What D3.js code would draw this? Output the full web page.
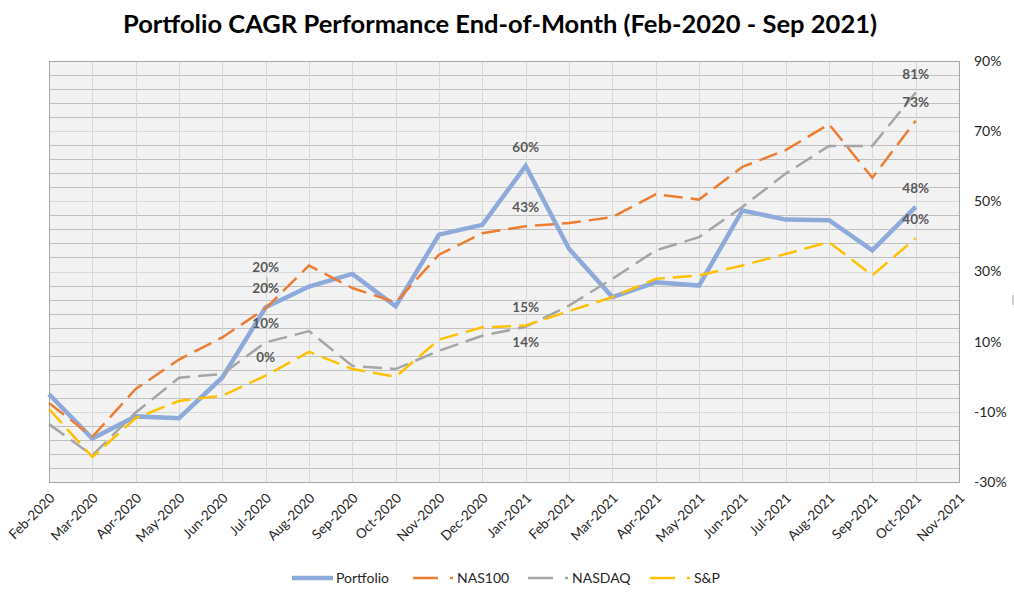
<!DOCTYPE html>
<html>
<head>
<meta charset="utf-8">
<script src="https://cdn.jsdelivr.net/npm/d3@7"></script>
<style>
  body { margin: 0; background: #fff; }
  text { font-family: Lato, "Open Sans", sans-serif; }
</style>
</head>
<body>
<div id="chart"></div>
<script>
// Data (percent, end of month)
const months = ['Feb-2020', 'Mar-2020', 'Apr-2020', 'May-2020', 'Jun-2020', 'Jul-2020', 'Aug-2020',
  'Sep-2020', 'Oct-2020', 'Nov-2020', 'Dec-2020', 'Jan-2021', 'Feb-2021', 'Mar-2021', 'Apr-2021',
  'May-2021', 'Jun-2021', 'Jul-2021', 'Aug-2021', 'Sep-2021', 'Oct-2021', 'Nov-2021'];
const portfolio = [-5, -17.6, -11.3, -11.8, -0.2, 19.8, 25.7, 29.3, 20.1, 40.5, 43.3, 60.1, 36.5, 22.7, 26.9, 26, 47.4, 44.8, 44.6, 36, 48.4];
const nas100 = [-7.5, -17.1, -3.5, 4.9, 11.2, 19.5, 31.7, 25.3, 21.2, 34.8, 40.9, 42.9, 43.8, 45.5, 52, 50.5, 59.8, 64.6, 72, 56.7, 73];
const nasdaq = [-13.5, -22.4, -10.2, -0.3, 0.8, 9.8, 13, 3.1, 2.2, 7.4, 11.7, 14.2, 20.3, 27.9, 36, 39.8, 48.4, 57.9, 65.8, 65.8, 81];
const sp = [-9.2, -22.9, -11.8, -6.9, -5.4, 0.3, 7.1, 2.2, 0, 10.6, 14.1, 14.6, 18.7, 22.7, 27.9, 28.9, 31.7, 35, 38.4, 28.9, 39.5];
const yTicks = [-30, -10, 10, 30, 50, 70, 90];

// which points carry a data label
const labelPoints = [
  { series: 'NAS100', month: 'Jul-2020', place: 'moved' },
  { series: 'Portfolio', month: 'Jul-2020', place: 'above' },
  { series: 'NASDAQ', month: 'Jul-2020', place: 'above' },
  { series: 'S&P', month: 'Jul-2020', place: 'above' },
  { series: 'Portfolio', month: 'Jan-2021', place: 'above' },
  { series: 'NAS100', month: 'Jan-2021', place: 'above' },
  { series: 'S&P', month: 'Jan-2021', place: 'above' },
  { series: 'NASDAQ', month: 'Jan-2021', place: 'below' },
  { series: 'NASDAQ', month: 'Oct-2021', place: 'above' },
  { series: 'NAS100', month: 'Oct-2021', place: 'above' },
  { series: 'Portfolio', month: 'Oct-2021', place: 'above' },
  { series: 'S&P', month: 'Oct-2021', place: 'above' }
];

const series = [
  { name: 'Portfolio', values: portfolio, color: '#8eaadb', width: 4.5, dash: null },
  { name: 'NAS100', values: nas100, color: '#ed7d31', width: 2.5, dash: '19,8' },
  { name: 'NASDAQ', values: nasdaq, color: '#a5a5a5', width: 2.5, dash: '19,8' },
  { name: 'S&P', values: sp, color: '#ffc000', width: 2.5, dash: '19,8' }
];

const dimensions = {
  width: 1014,
  height: 596,
  plot: { left: 49, right: 959, top: 61, bottom: 482 }
};
const p = dimensions.plot;

const svg = d3.select('#chart')
  .append('svg')
  .attr('width', dimensions.width)
  .attr('height', dimensions.height);

// Scales
const xScale = d3.scalePoint()
  .domain(months)
  .range([p.left, p.right]);

const yScale = d3.scaleLinear()
  .domain([-30, 90])
  .range([p.bottom, p.top]);

// Plot background
svg.append('rect')
  .attr('x', p.left)
  .attr('y', p.top)
  .attr('width', p.right - p.left)
  .attr('height', p.bottom - p.top)
  .attr('fill', '#f2f2f2');

// Gridlines: minor every 4%, major every 20% (lighter)
const minor = d3.range(-30, 90.1, 4);
svg.append('g')
  .selectAll('line')
  .data(minor)
  .join('line')
  .attr('x1', p.left)
  .attr('x2', p.right)
  .attr('y1', d => Math.round(yScale(d)) + 0.5)
  .attr('y2', d => Math.round(yScale(d)) + 0.5)
  .attr('stroke', d => yTicks.includes(Math.round(d)) ? '#d9d9d9' : '#bfbfbf')
  .attr('stroke-width', 1);

svg.append('g')
  .selectAll('line')
  .data(months)
  .join('line')
  .attr('x1', d => Math.round(xScale(d)) + 0.5)
  .attr('x2', d => Math.round(xScale(d)) + 0.5)
  .attr('y1', p.top)
  .attr('y2', p.bottom)
  .attr('stroke', '#d9d9d9')
  .attr('stroke-width', 1);

svg.append('rect')
  .attr('x', p.left + 0.5)
  .attr('y', p.top + 0.5)
  .attr('width', p.right - p.left)
  .attr('height', p.bottom - p.top)
  .attr('fill', 'none')
  .attr('stroke', '#a6a6a6')
  .attr('stroke-width', 1);

// Lines
const line = d3.line()
  .x((d, i) => xScale(months[i]))
  .y(d => yScale(d));

svg.append('g')
  .selectAll('path')
  .data(series)
  .join('path')
  .attr('d', d => line(d.values))
  .attr('fill', 'none')
  .attr('stroke', d => d.color)
  .attr('stroke-width', d => d.width)
  .attr('stroke-dasharray', d => d.dash)
  .attr('stroke-linejoin', 'miter')
  .attr('stroke-linecap', d => d.dash ? 'butt' : 'butt');

// Data labels
const seriesByName = Object.fromEntries(series.map(s => [s.name, s]));
const labelData = labelPoints.map(l => {
  const v = seriesByName[l.series].values[months.indexOf(l.month)];
  return { ...l, value: v, x: xScale(l.month), y: yScale(v) };
});

const labelsGroup = svg.append('g');
labelsGroup.selectAll('line')
  .data(labelData.filter(d => d.place === 'moved'))
  .join('line')
  .attr('x1', d => d.x + 1.5)
  .attr('x2', d => d.x + 1.5)
  .attr('y1', d => d.y - 31)
  .attr('y2', d => d.y - 16)
  .attr('stroke', '#a6a6a6')
  .attr('stroke-width', 1);

labelsGroup.selectAll('text')
  .data(labelData)
  .join('text')
  .attr('x', d => d.x)
  .attr('y', d => d.place === 'below' ? d.y + 20 : d.place === 'moved' ? d.y - 36 : d.y - 14)
  .attr('text-anchor', 'middle')
  .attr('font-size', 13.5)
  .attr('font-weight', 'bold')
  .attr('fill', '#595959')
  .text(d => Math.round(d.value) + '%');

// Axes
const yAxis = d3.axisRight(yScale)
  .tickValues(yTicks)
  .tickSize(0)
  .tickPadding(0)
  .tickFormat(d => d + '%');

const yAxisGroup = svg.append('g')
  .attr('transform', `translate(974, 0)`)
  .call(yAxis);
yAxisGroup.select('.domain').remove();
yAxisGroup.selectAll('text')
  .attr('font-family', 'Lato, sans-serif')
  .attr('font-size', 14)
  .attr('fill', '#262626')
  .attr('dy', '0.32em');

const xAxis = d3.axisBottom(xScale)
  .tickSize(0)
  .tickPadding(0);

const xAxisGroup = svg.append('g')
  .attr('transform', `translate(0, ${p.bottom})`)
  .call(xAxis);
xAxisGroup.select('.domain').remove();
xAxisGroup.selectAll('text')
  .attr('font-family', 'Lato, sans-serif')
  .attr('font-size', 13.5)
  .attr('fill', '#262626')
  .attr('y', 0)
  .attr('dy', 0)
  .attr('text-anchor', 'end')
  .attr('transform', 'translate(6, 17) rotate(-45)');

// Title
svg.append('text')
  .attr('x', 500)
  .attr('y', 33)
  .attr('text-anchor', 'middle')
  .attr('font-size', 24)
  .attr('font-weight', 'bold')
  .attr('fill', '#000')
  .attr('textLength', 754)
  .attr('lengthAdjust', 'spacingAndGlyphs')
  .text('Portfolio CAGR Performance End-of-Month (Feb-2020 - Sep 2021)');

// Legend
const legendX = [292, 413, 528, 650];
const legend = svg.append('g')
  .selectAll('g')
  .data(series)
  .join('g')
  .attr('transform', (d, i) => `translate(${legendX[i]}, 578)`);

legend.append('line')
  .attr('x1', 0)
  .attr('x2', d => d.dash ? 40 : 41)
  .attr('y1', 0)
  .attr('y2', 0)
  .attr('stroke', d => d.color)
  .attr('stroke-width', d => d.width)
  .attr('stroke-dasharray', d => d.dash ? '25,12,3,20' : null);

legend.append('text')
  .attr('x', d => d.dash ? 44 : 44)
  .attr('y', 5)
  .attr('font-size', 14)
  .attr('fill', '#262626')
  .text(d => d.name);

// small artifact at the right edge
svg.append('rect')
  .attr('x', 1012)
  .attr('y', 295)
  .attr('width', 2)
  .attr('height', 10)
  .attr('fill', '#d0d0d0');
</script>
</body>
</html>
